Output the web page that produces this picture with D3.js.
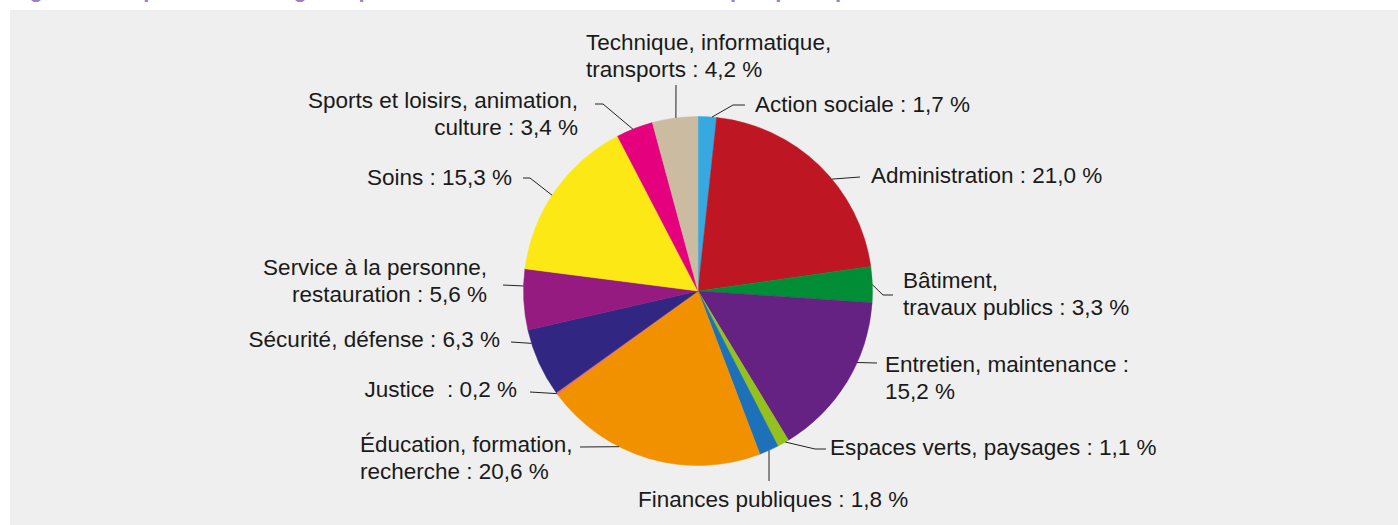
<!DOCTYPE html>
<html>
<head>
<meta charset="utf-8">
<script src="https://cdn.jsdelivr.net/npm/d3@7"></script>
<style>
  html, body { margin: 0; padding: 0; background: #fff; }
  svg { display: block; }
  text { font-family: "Liberation Sans", Arial, sans-serif; white-space: pre; }
</style>
</head>
<body>
<svg id="chart" width="1398" height="525"></svg>
<script>
// domaines fonctionnels, dans l'ordre du camembert (sens horaire depuis midi)
const categories = [
  'Action sociale', 'Administration', 'Bâtiment, travaux publics',
  'Entretien, maintenance', 'Espaces verts, paysages', 'Finances publiques',
  'Éducation, formation, recherche', 'Justice ', 'Sécurité, défense',
  'Service à la personne, restauration', 'Soins',
  'Sports et loisirs, animation, culture', 'Technique, informatique, transports'
]
const shares = [1.7, 21.0, 3.3, 15.2, 1.1, 1.8, 20.6, 0.2, 6.3, 5.6, 15.3, 3.4, 4.2]
const colors = [
  '#36a9e1', '#be1622', '#008d36', '#662282', '#95c11f', '#1d71b8',
  '#f29100', '#e9735a', '#312783', '#951b81', '#fce814', '#e5007e', '#cbbba0'
]

// placement des étiquettes et des traits de rappel
const labelLayout = [
  { t: 0.75, pts: [[733, 105], [745, 105]], anchor: 'start', x: 755, y: 112, words: 99 },
  { t: 0.58, pts: [[860, 177]], anchor: 'start', x: 871, y: 183, words: 99 },
  { t: 0.5, pts: [[883, 295], [893, 295]], anchor: 'start', x: 903, y: 288, words: 1 },
  { t: 0.37, pts: [[877, 363]], anchor: 'start', x: 885, y: 372, words: 3 },
  { t: 0.3, pts: [[815, 449], [826, 449]], anchor: 'start', x: 830, y: 455, words: 99 },
  { t: 0.5, pts: [[769, 481]], anchor: 'start', x: 638, y: 507, words: 99 },
  { t: 0.64, pts: [[580, 447]], anchor: 'start', x: 360, y: 452, words: 2 },
  { t: 0.5, pts: [[530, 392]], anchor: 'end', x: 517, y: 397, words: 99 },
  { t: 0.8, pts: [[511, 342]], anchor: 'end', x: 500, y: 347, words: 99 },
  { t: 0.72, pts: [[503, 285]], anchor: 'end', x: 487, y: 275, words: 4 },
  { t: 0.47, pts: [[530, 178], [523, 178]], anchor: 'end', x: 512, y: 185, words: 99 },
  { t: 0.45, pts: [[603, 104], [595, 104]], anchor: 'end', x: 578, y: 108, words: 4 },
  { t: 0.52, pts: [[676, 85]], anchor: 'start', x: 586, y: 50, words: 2 }
]

const width = 1398, height = 525
const cx = 698, cy = 291, radius = 174.5
const lineHeight = 27

const svg = d3.select('#chart')

// fond gris du cadre
svg.append('rect')
  .attr('x', 10).attr('y', 10)
  .attr('width', width - 10).attr('height', height - 10)
  .attr('fill', '#efefef')

// titre (coupé en haut de l'image)
svg.append('text')
  .attr('x', 10).attr('y', -3)
  .attr('fill', '#9a80c6')
  .attr('font-size', 22).attr('font-weight', 'bold')
  .text('Figure 3 : Répartition des agents par domaine fonctionnel de leur emploi principal')

const fmt = v => d3.format('.1f')(v).replace('.', ',')

const pie = d3.pie().sort(null).value(d => d)
const arcs = pie(shares)
const arc = d3.arc().innerRadius(0).outerRadius(radius)

const g = svg.append('g').attr('transform', `translate(${cx},${cy})`)

g.selectAll('path.slice')
  .data(arcs)
  .enter().append('path')
  .attr('class', 'slice')
  .attr('d', arc)
  .attr('fill', (d, i) => colors[i])
  .attr('stroke', (d, i) => colors[i])
  .attr('stroke-width', 0.5)

// traits de rappel
const line = d3.line()
svg.append('g').selectAll('path.leader')
  .data(arcs)
  .enter().append('path')
  .attr('class', 'leader')
  .attr('fill', 'none')
  .attr('stroke', '#222')
  .attr('stroke-width', 1)
  .attr('d', (d, i) => {
    const l = labelLayout[i]
    const a = d.startAngle + l.t * (d.endAngle - d.startAngle)
    const p0 = [cx + radius * Math.sin(a), cy - radius * Math.cos(a)]
    return line([p0, ...l.pts])
  })

// étiquettes
const labels = svg.append('g').selectAll('text.label')
  .data(arcs)
  .enter().append('text')
  .attr('class', 'label')
  .attr('font-size', 22.5)
  .attr('fill', '#1a1a1a')
  .attr('text-anchor', (d, i) => labelLayout[i].anchor)
  .attr('x', (d, i) => labelLayout[i].x)
  .attr('y', (d, i) => labelLayout[i].y)

labels.each(function (d, i) {
  const l = labelLayout[i]
  const words = `${categories[i]} : ${fmt(shares[i])} %`.split(' ')
  const lines = [words.slice(0, l.words).join(' ')]
  if (words.length > l.words) lines.push(words.slice(l.words).join(' '))
  d3.select(this).selectAll('tspan')
    .data(lines)
    .enter().append('tspan')
    .attr('x', l.x)
    .attr('dy', (s, k) => k === 0 ? 0 : lineHeight)
    .text(s => s)
})
</script>
</body>
</html>
